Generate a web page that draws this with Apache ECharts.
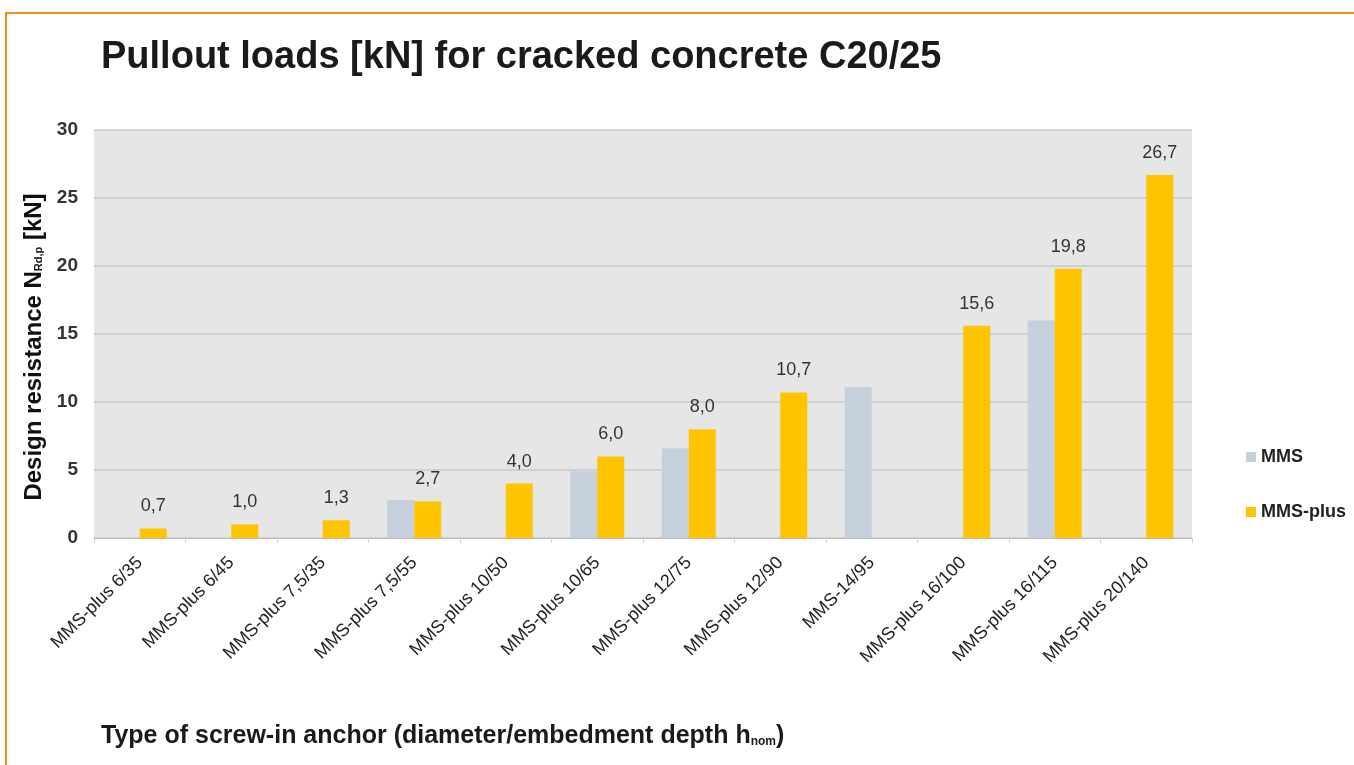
<!DOCTYPE html>
<html>
<head>
	<meta http-equiv="Content-Type" content="text/html;charset=utf-8">
	<title>Pullout loads</title>
	<style>
		html, body{
			margin: 0;
			padding: 0;
			background: #fff;
		}
		.frame{
			position: absolute;
			left: 5px;
			top: 12px;
			width: 1349px;
			height: 753px;
			border-top: 2px solid #f08a1c;
			border-left: 2px solid #f08a1c;
		}
		#chart{
			position: absolute;
			left: 0;
			top: 0;
			width: 1354px;
			height: 765px;
		}
	</style>
</head>
<body>
<div class="frame"></div>
<div id="chart"></div>
<script src="https://cdn.jsdelivr.net/npm/echarts@6/dist/echarts.min.js"></script>
<script>
	var categories = [
		'MMS-plus 6/35', 'MMS-plus 6/45', 'MMS-plus 7,5/35', 'MMS-plus 7,5/55',
		'MMS-plus 10/50', 'MMS-plus 10/65', 'MMS-plus 12/75', 'MMS-plus 12/90',
		'MMS-14/95', 'MMS-plus 16/100', 'MMS-plus 16/115', 'MMS-plus 20/140'
	];
	// MMS (no labels in the picture), '-' = no bar
	var mmsValues = ['-', '-', '-', 2.8, '-', 4.9, 6.6, '-', 11.1, '-', 16.0, '-'];
	var mmsPlusValues = [0.7, 1.0, 1.3, 2.7, 4.0, 6.0, 8.0, 10.7, '-', 15.6, 19.8, 26.7];
	var yTicks = [0, 5, 10, 15, 20, 25, 30];

	var font = 'Liberation Sans, Arial, sans-serif';

	var option = {
		animation: false,
		textStyle: { fontFamily: font },
		title: [
			{
				text: 'Pullout loads [kN] for cracked concrete C20/25',
				left: 96,
				top: 34,
				textStyle: { fontSize: 38, fontWeight: 'bold', color: '#1a1a1a', fontFamily: font }
			},
			{
				text: '{a|Type of screw-in anchor (diameter/embedment depth h}{s|nom}{a|)}',
				left: 96,
				top: 719,
				textStyle: {
					fontFamily: font,
					rich: {
						a: { fontSize: 25, fontWeight: 'bold', color: '#1a1a1a', fontFamily: font },
						s: { fontSize: 12, fontWeight: 'bold', color: '#1a1a1a', fontFamily: font, padding: [10, 0, 0, 0] }
					}
				}
			}
		],
		legend: {
			orient: 'vertical',
			left: 1241,
			top: 443,
			itemWidth: 10,
			itemHeight: 10,
			itemGap: 37,
			icon: 'rect',
			data: ['MMS', 'MMS-plus'],
			textStyle: { fontSize: 18, fontWeight: 'bold', color: '#222', fontFamily: font }
		},
		grid: {
			left: 94,
			right: 162,
			top: 130,
			bottom: 227,
			show: true,
			backgroundColor: '#e6e6e6',
			borderWidth: 0
		},
		xAxis: {
			type: 'category',
			data: categories,
			axisLine: { lineStyle: { color: '#bdbdbd', width: 1 } },
			axisTick: { show: true, alignWithLabel: false, lineStyle: { color: '#d0d0d0' } },
			axisLabel: {
				rotate: 45,
				interval: 0,
				fontSize: 18,
				color: '#222',
				margin: 22
			}
		},
		yAxis: {
			type: 'value',
			min: yTicks[0],
			max: yTicks[yTicks.length - 1],
			interval: 5,
			name: '{a|Design resistance N}{s|Rd,p}{a| [kN]}',
			nameLocation: 'middle',
			nameRotate: 90,
			nameGap: 47,
			nameTextStyle: {
				padding: [0, 26, 0, 0],
				rich: {
					a: { fontSize: 24, fontWeight: 'bold', color: '#111', fontFamily: font },
					s: { fontSize: 11, fontWeight: 'bold', color: '#111', fontFamily: font, padding: [10, 0, 0, 0] }
				}
			},
			axisLine: { show: false },
			axisTick: { show: false },
			axisLabel: { fontSize: 19, fontWeight: 'bold', color: '#333', margin: 16 },
			splitLine: { lineStyle: { color: '#c8c8c8', width: 1.5 } }
		},
		series: [
			{
				name: 'MMS',
				type: 'bar',
				data: mmsValues,
				barWidth: 27,
				barGap: '0%',
				itemStyle: { color: '#c6d0dd' }
			},
			{
				name: 'MMS-plus',
				type: 'bar',
				data: mmsPlusValues,
				barWidth: 27,
				itemStyle: { color: '#fdc500' },
				label: {
					show: true,
					position: 'top',
					distance: 13,
					fontSize: 18,
					color: '#333',
					formatter: function(p){
						return p.value.toFixed(1).replace('.', ',');
					}
				}
			}
		]
	};

	var myChart = echarts.init(document.getElementById('chart'));
	myChart.setOption(option);
</script>
</body>
</html>
